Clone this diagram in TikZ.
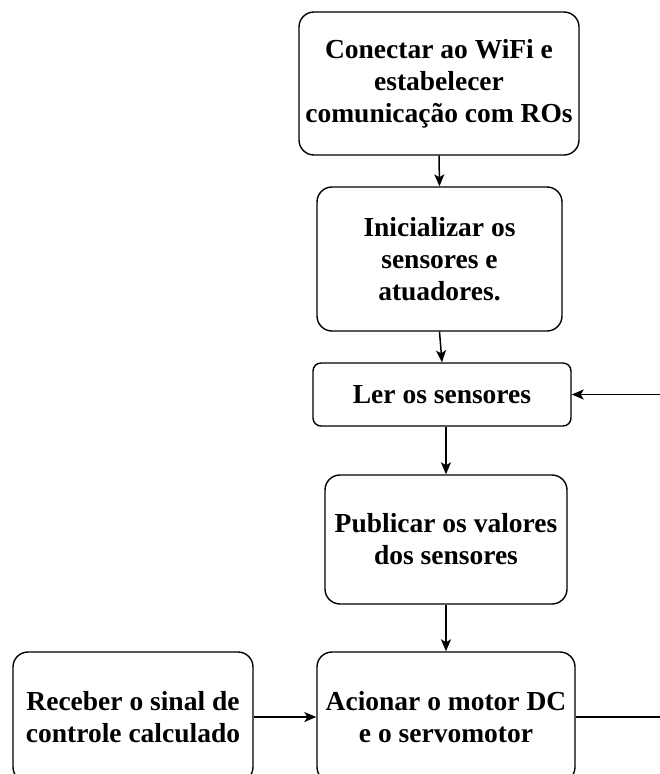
\documentclass[tikz,border=0pt]{standalone}
\usepackage{fontspec}
\setmainfont{Liberation Serif}
\usetikzlibrary{arrows.meta}
\begin{document}
\begin{tikzpicture}[x=1pt,y=-1pt,
  box/.style={draw, line width=1.4pt, rounded corners=15pt, align=center,
    font=\bfseries\fontsize{27.5}{32}\selectfont, inner sep=0pt},
  smallbox/.style={box, rounded corners=8pt},
  arr/.style={-{Stealth[length=12pt,width=10pt,inset=3pt]}, line width=1.5pt},
  plain/.style={line width=1.5pt}]
\clip (0,0) rectangle (660,774);
\node[box, minimum width=280pt, minimum height=143pt] (b1) at (439,83.5)
  {Conectar ao WiFi e\\estabelecer\\comunicação com ROs};
\node[box, minimum width=245pt, minimum height=144pt] (b2) at (439.5,259)
  {Inicializar os\\sensores e\\atuadores.};
\node[smallbox, minimum width=258pt, minimum height=63pt] (b3) at (442,394.5)
  {Ler os sensores};
\node[box, minimum width=242pt, minimum height=129pt] (b4) at (446,539.5)
  {Publicar os valores\\dos sensores};
\node[box, minimum width=258pt, minimum height=130pt] (b5) at (446,717)
  {Acionar o motor DC\\e o servomotor};
\node[box, minimum width=240pt, minimum height=130pt] (b6) at (133,717)
  {Receber o sinal de\\controle calculado};
\coordinate (r3) at (660,394.5);
\coordinate (r5) at (660,717);
\draw[arr] (b1.south) -- (b2.north);
\draw[arr] (b2.south) -- (b3.north);
\draw[arr] (b3.south -| b4.north) -- (b4.north);
\draw[arr] (b4.south) -- (b5.north);
\draw[arr] (r3) -- (b3.east);
\draw[arr] (b6.east) -- (b5.west);
\draw[plain] (b5.east) -- (r5);
\end{tikzpicture}
\end{document}
